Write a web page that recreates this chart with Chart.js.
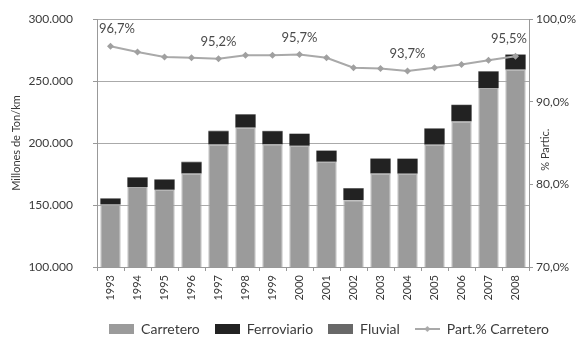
<!DOCTYPE html>
<html><head><meta charset="utf-8">
<script src="https://cdn.jsdelivr.net/npm/chart.js@4"></script>
<style>html,body{margin:0;padding:0;background:#fff}#w{width:578px;height:337px}</style>
</head><body><div id="w"><canvas id="c" width="578" height="337"></canvas></div>
<script>
const years = ['1993','1994','1995','1996','1997','1998','1999','2000','2001','2002','2003','2004','2005','2006','2007','2008'];
const carretero = [150400,164500,162300,175400,198800,212400,198900,197800,184900,153900,175400,175300,198700,217400,244300,259200];
const ferroviario = [4700,7600,8100,9100,10700,10600,10600,9500,8800,9500,11900,11900,12900,13200,13300,11900];
const fluvial = [400,400,400,400,400,300,300,300,300,300,300,300,300,300,400,400];
const partCarretero = [96.7,96.0,95.4,95.3,95.2,95.6,95.6,95.7,95.3,94.1,94.0,93.7,94.1,94.5,95.0,95.5];
const labeledIdx = [0,4,7,11,15];
const leftTicks = [100000,150000,200000,250000,300000];
const rightTicks = [70,80,90,100];

const FONT = 'Lato, "Open Sans", sans-serif';
const TXT = '#3a3a3a';
const fmtThousands = v => String(Math.round(v)).replace(/\B(?=(\d{3})+(?!\d))/g, '.');
const fmtPct = v => v.toFixed(1).replace('.', ',') + '%';

function swatch(fill){
  const c = document.createElement('canvas'); c.width = 25; c.height = 10;
  const x = c.getContext('2d'); x.fillStyle = fill; x.fillRect(0,0,25,10); return c;
}
function lineSwatch(col){
  const c = document.createElement('canvas'); c.width = 25; c.height = 10;
  const x = c.getContext('2d'); x.strokeStyle = col; x.lineWidth = 2;
  x.beginPath(); x.moveTo(0,5); x.lineTo(25,5); x.stroke();
  x.fillStyle = col; x.beginPath(); x.moveTo(12.5,2); x.lineTo(15.5,5); x.lineTo(12.5,8); x.lineTo(9.5,5); x.closePath(); x.fill();
  return c;
}
const C_CAR = '#9b9b9b', C_FER = '#222222', C_FLU = '#686868', C_LINE = '#a9a9a9';

const labelPlugin = {
  id: 'pctLabels',
  afterDatasetsDraw(chart){
    const meta = chart.getDatasetMeta(3);
    const ctx = chart.ctx, ca = chart.chartArea;
    ctx.save();
    ctx.font = '13px ' + FONT; ctx.fillStyle = '#4a4a4a';
    ctx.textAlign = 'left'; ctx.textBaseline = 'middle';
    labeledIdx.forEach(i => {
      const p = meta.data[i]; const t = fmtPct(partCarretero[i]);
      const w = ctx.measureText(t).width;
      let x = p.x - w/2;
      x = Math.max(ca.left + 2, Math.min(ca.right - 2 - w, x));
      ctx.fillText(t, x, p.y - 17);
    });
    ctx.restore();
  }
};
const rightTitle = {
  id: 'rightTitle',
  afterDraw(chart){
    const s = chart.scales.y1, ctx = chart.ctx;
    ctx.save();
    ctx.translate(s.left + 16, s.getPixelForValue(84.2));
    ctx.rotate(-Math.PI/2);
    ctx.font = '11px ' + FONT; ctx.fillStyle = TXT;
    ctx.textAlign = 'center'; ctx.textBaseline = 'middle';
    ctx.fillText('% Partic.', 0, 0);
    ctx.restore();
  }
};
const legendShift = {
  id: 'legendShift',
  afterLayout(chart){
    if (chart.legend) { chart.legend.left += 40; chart.legend.right += 40; }
  }
};

new Chart(document.getElementById('c'), {
  type: 'bar',
  data: {
    labels: years,
    datasets: [
      {label:'Carretero', data: carretero, backgroundColor: C_CAR, borderColor:'#acacac', borderWidth:1, yAxisID:'y', order:2},
      {label:'Ferroviario', data: ferroviario, backgroundColor: C_FER, borderWidth:0, yAxisID:'y', order:2},
      {label:'Fluvial', data: fluvial, backgroundColor: C_FLU, borderWidth:0, yAxisID:'y', order:2},
      {type:'line', label:'Part.% Carretero', data: partCarretero, borderColor: C_LINE, backgroundColor: C_LINE,
       borderWidth:2, pointStyle:'rectRot', pointRadius:3.5, pointBackgroundColor:'#a0a0a0', pointBorderWidth:0,
       tension:0, yAxisID:'y1', order:0}
    ]
  },
  options: {
    responsive:false, animation:false,
    layout:{padding:{top:19, left:0, right:0, bottom:-9}},
    datasets:{bar:{barPercentage:0.75, categoryPercentage:1}},
    plugins:{
      tooltip:{enabled:false},
      legend:{position:'bottom',
        labels:{font:{size:14, family:FONT}, color:TXT, usePointStyle:true, pointStyleWidth:25, boxHeight:10, padding:15,
          generateLabels(chart){
            const cols=[swatch(C_CAR), swatch(C_FER), swatch(C_FLU), lineSwatch(C_LINE)];
            return chart.data.datasets.map((d,i)=>({text:d.label, pointStyle:cols[i], fillStyle:'#000', strokeStyle:'#000', lineWidth:0, datasetIndex:i, hidden:false, fontColor:TXT}));
          }}}
    },
    scales:{
      x:{stacked:true,
        grid:{offset:true, drawOnChartArea:false, drawTicks:true, tickLength:4, color:'#999'},
        border:{color:'#999'},
        ticks:{font:{size:11, family:FONT}, color:TXT, minRotation:90, maxRotation:90, padding:4},
        afterFit(s){ s.height = 40; }
      },
      y:{stacked:true, position:'left', min:100000, max:300000,
        afterBuildTicks(s){ s.ticks = leftTicks.map(v=>({value:v})); },
        grid:{color:'#aaa', tickLength:4, tickColor:'#999'},
        border:{color:'#999'},
        ticks:{font:{size:12, family:FONT}, color:TXT, padding:20, callback:v=>fmtThousands(v)},
        title:{display:true, text:'Millones de Ton/km', font:{size:11, family:FONT}, color:TXT, padding:{top:10,bottom:0}},
        afterFit(s){ s.width = 97; s.paddingTop = 7; s.paddingBottom = 7; }
      },
      y1:{position:'right', min:70, max:100,
        afterBuildTicks(s){ s.ticks = rightTicks.map(v=>({value:v})); },
        grid:{drawOnChartArea:false, tickLength:4, color:'#999'},
        border:{color:'#999'},
        ticks:{font:{size:12, family:FONT}, color:TXT, padding:3, callback:v=>fmtPct(v)},
        afterFit(s){ s.width = 49; s.paddingTop = 7; s.paddingBottom = 7; }
      }
    }
  },
  plugins:[labelPlugin, rightTitle, legendShift]
});
</script></body></html>
